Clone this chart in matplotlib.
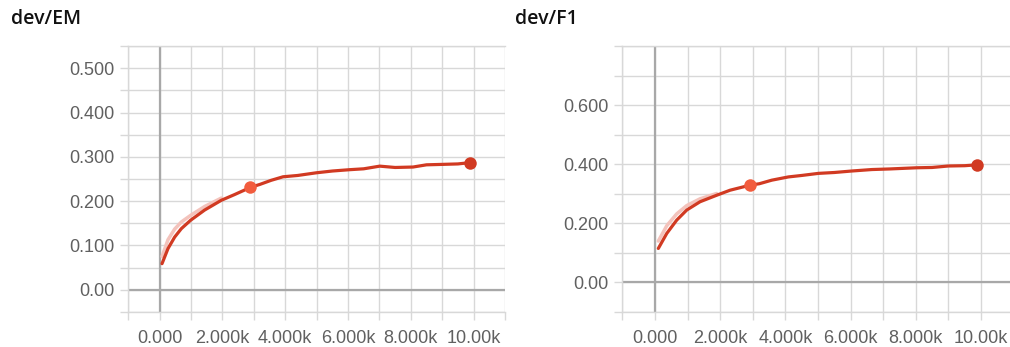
import numpy as np
import matplotlib.pyplot as plt
from matplotlib.ticker import FixedLocator, FixedFormatter

plt.rcParams['font.family'] = ['Liberation Sans', 'DejaVu Sans']

# dev/EM curve (smoothed)
em_steps = [75, 265, 478, 690, 987, 1433, 1965, 2390, 2890, 3200, 3550, 3930,
            4400, 4990, 5500, 6050, 6500, 7010, 7500, 8070, 8500, 9020, 9500,
            9894]
em_vals = [0.059, 0.093, 0.119, 0.138, 0.157, 0.180, 0.202, 0.215, 0.231, 0.238,
           0.247, 0.255, 0.258, 0.264, 0.268, 0.271, 0.273, 0.279, 0.276, 0.277,
           0.282, 0.283, 0.284, 0.287]
# raw (unsmoothed) values near the start, pale trace
em_raw_steps = [75, 265, 478, 690, 987, 1433, 1965]
em_raw_vals = [0.075, 0.113, 0.137, 0.153, 0.168, 0.188, 0.207]

# dev/F1 curve
f1_steps = [100, 360, 665, 972, 1380, 1890, 2300, 2910, 3200, 3580, 4090, 4500,
            5010, 5500, 6030, 6650, 7200, 8030, 8500, 9000, 9500, 9890]
f1_vals = [0.115, 0.166, 0.211, 0.245, 0.273, 0.295, 0.312, 0.329, 0.334, 0.346,
           0.357, 0.362, 0.369, 0.372, 0.377, 0.382, 0.384, 0.388, 0.389, 0.394,
           0.395, 0.398]
f1_raw_steps = [100, 360, 665, 972, 1380, 1890]
f1_raw_vals = [0.140, 0.192, 0.232, 0.260, 0.283, 0.301]

x_ticks = list(range(-1000, 11001, 1000))
x_labels = ['', '0.000', '', '2.000k', '', '4.000k', '', '6.000k', '', '8.000k',
            '', '10.00k', '']

em_yticks = [-0.05, 0.0, 0.05, 0.1, 0.15, 0.2, 0.25, 0.3, 0.35, 0.4, 0.45, 0.5, 0.55]
em_ylabels = ['', '0.00', '', '0.100', '', '0.200', '', '0.300', '', '0.400', '',
              '0.500', '']
f1_yticks = [-0.1, 0.0, 0.1, 0.2, 0.3, 0.4, 0.5, 0.6, 0.7, 0.8]
f1_ylabels = ['', '0.00', '', '0.200', '', '0.400', '', '0.600', '', '']

LINE = '#d13a22'
RAW = '#f3c3bc'
MID = '#f25c3e'
GRID = '#d8d8d8'
ZERO = '#a8a8a8'
TXT = '#606060'

fig = plt.figure(figsize=(10.1, 3.47), dpi=100)


def panel(rect, title, title_x, steps, vals, raw_steps, raw_vals, xlim,
          ylim, yticks, ylabels, mid_idx):
    ax = fig.add_axes(rect)
    ax.set_xlim(*xlim)
    ax.set_ylim(*ylim)
    ax.xaxis.set_major_locator(FixedLocator(x_ticks))
    ax.xaxis.set_major_formatter(FixedFormatter(x_labels))
    ax.yaxis.set_major_locator(FixedLocator(yticks))
    ax.yaxis.set_major_formatter(FixedFormatter(ylabels))
    ax.grid(True, color=GRID, lw=1.0)
    ax.tick_params(axis='both', colors=GRID, labelcolor=TXT, labelsize=13,
                   length=6, width=1.0)
    ax.tick_params(axis='y', pad=4)
    ax.tick_params(axis='x', pad=7)
    for s in ax.spines.values():
        s.set_color(GRID)
        s.set_linewidth(1.0)
    ax.spines['right'].set_visible(False)
    ax.axhline(0, color=ZERO, lw=1.6, zorder=1)
    ax.axvline(0, color=ZERO, lw=1.6, zorder=1)
    ax.plot(raw_steps, raw_vals, color=RAW, lw=2.5, solid_capstyle='round',
            zorder=2)
    ax.plot(steps, vals, color=LINE, lw=2.3, solid_capstyle='round', zorder=3)
    ax.plot(steps[mid_idx], vals[mid_idx], 'o', color=MID, ms=9, zorder=4,
            mec='none')
    ax.plot(steps[-1], vals[-1], 'o', color=LINE, ms=9, zorder=4, mec='none')
    ax.set_axisbelow(True)
    fig.text(title_x, 0.945, title, fontsize=14, color='#111111',
             fontweight='semibold', family=['Open Sans', 'DejaVu Sans'],
             va='center', ha='left')
    return ax


panel([0.127, 0.1009, 0.373, 0.7665], 'dev/EM', 0.011, em_steps, em_vals,
      em_raw_steps, em_raw_vals, (-1000, 11000), (-0.05, 0.55),
      em_yticks, em_ylabels, 8)
panel([0.6163, 0.1009, 0.3837, 0.7665], 'dev/F1', 0.51, f1_steps, f1_vals,
      f1_raw_steps, f1_raw_vals, (-1000, 10890), (-0.1, 0.8),
      f1_yticks, f1_ylabels, 7)

fig.savefig('out.png', dpi=100, facecolor='white')
